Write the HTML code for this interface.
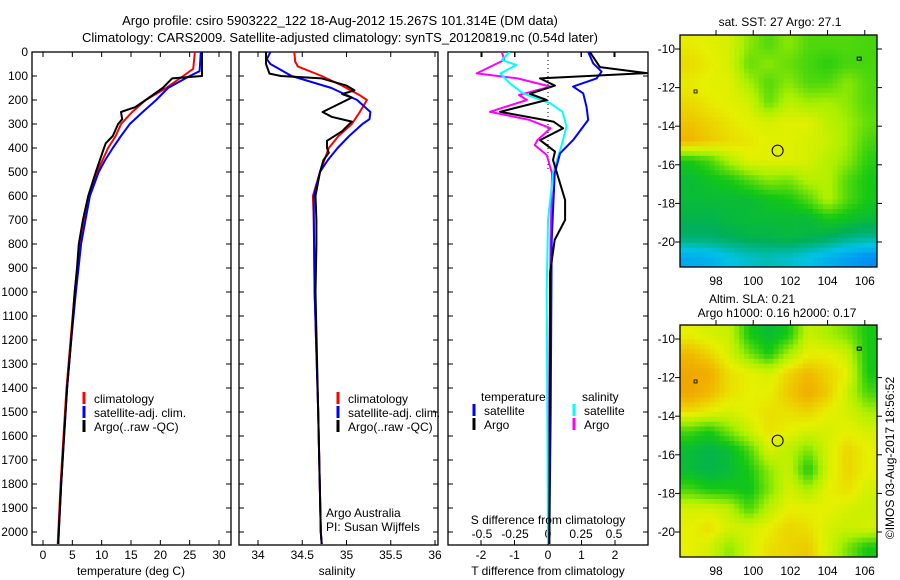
<!DOCTYPE html>
<html><head><meta charset="utf-8"><style>
html,body{margin:0;padding:0;background:#fff;}
svg{display:block;font-family:"Liberation Sans",sans-serif;}
text{font-size:12px;fill:#000;}
</style></head><body>
<svg id="fig" width="900" height="580" viewBox="0 0 900 580" xmlns="http://www.w3.org/2000/svg">
<text x="340" y="25" text-anchor="middle" style="font-size:13px">Argo profile: csiro 5903222_122 18-Aug-2012 15.267S 101.314E (DM data)</text>
<text x="340" y="42" text-anchor="middle" style="font-size:13px">Climatology: CARS2009. Satellite-adjusted climatology: synTS_20120819.nc (0.54d later)</text>
<g id="g1"></g>
<g id="g2"></g>
<g id="g3"></g>
<g id="m1"></g>
<g id="m2"></g>
<text x="780" y="26" text-anchor="middle">sat. SST: 27 Argo: 27.1</text>
<text x="752" y="303" text-anchor="middle">Altim. SLA: 0.21</text>
<text x="777" y="317" text-anchor="middle">Argo h1000: 0.16 h2000: 0.17</text>
<text transform="translate(894,458) rotate(-90)" text-anchor="middle">©IMOS 03-Aug-2017 18:56:52</text>
</svg>
<script>
// ---------- data ----------
const tDepthA=[0,100,110,150,200,230,250,280,300,350,380,400,500,600,700,800,900,1000,1200,1400,1600,1800,2000,2050];
const tArgo=[27.1,27.1,22,20.4,17.5,15.7,13.3,13.5,12.8,11.9,10.7,10.4,9.0,7.7,6.8,6.1,5.8,5.4,4.8,4.1,3.6,3.1,2.7,2.6];
const tDepthC=[0,70,100,150,200,250,300,350,400,500,600,800,1000,1200,1400,1600,1800,2000,2050];
const tClim=[25.9,25.6,23.9,21,17.5,15.2,13.3,12.4,11.1,9.2,7.8,6.3,5.4,4.7,4.0,3.5,3.0,2.6,2.5];
const tDepthS=[0,80,100,150,200,250,300,350,400,450,500,600,800,1000,1200,1400,1600,1800,2000,2050];
const tSat=[26.9,26.7,25,21.3,19.3,17,14.8,13.3,11.9,10.6,9.5,8,6.5,5.6,4.8,4.1,3.6,3.1,2.7,2.6];
const sDepthA=[0,50,90,100,110,140,160,175,190,210,250,270,290,330,370,400,420,450,500,600,700,800,1000,1500,2000,2050];
const sArgo=[34.09,34.09,34.13,34.26,34.72,35.0,35.09,34.95,35.06,34.95,34.73,34.83,35.06,34.95,34.78,34.78,34.8,34.74,34.7,34.65,34.66,34.66,34.65,34.68,34.71,34.72];
const sDepthC=[0,40,60,100,140,180,200,250,300,350,400,500,550,600,700,1000,1500,2000,2050];
const sClim=[34.41,34.42,34.45,34.72,34.95,35.15,35.23,35.15,35.06,34.91,34.8,34.7,34.66,34.62,34.63,34.64,34.68,34.71,34.72];
const sDepthS=[0,30,50,100,150,200,250,280,300,350,400,450,500,600,700,1000,1500,2000,2050];
const sSat=[34.14,34.1,34.14,34.38,34.83,35.12,35.27,35.26,35.18,35.03,34.9,34.79,34.7,34.63,34.63,34.64,34.68,34.71,34.72];
const dDepthT=[0,63,88,110,140,174,200,249,290,318,367,415,450,617,700,783,922,1500,2050];
const dTArgoClim=[1.25,1.55,2.95,-0.24,0.21,-0.54,-0.04,-1.43,0.16,0.45,-0.24,0.21,0.15,0.51,0.51,0.2,0.06,0.05,0.04];
const dDepthTS=[0,47,82,110,144,172,228,283,367,422,506,783,1500,2050];
const dTArgoSat=[1.2,1.35,1.6,1.45,0.75,1.05,1.15,1.2,0.75,0.36,0.2,0.11,0.08,0.04];
const dDepthS=[0,33,89,110,144,179,200,249,283,318,367,388,429,506,783,2050];
const dSArgoClim=[-0.35,-0.33,-0.54,-0.23,0.02,-0.22,-0.16,-0.44,-0.14,0.02,-0.08,-0.1,-0.01,0.03,0.02,0.0];
const dDepthSS=[0,33,54,89,130,172,214,249,310,394,500,700,1000,2050];
const dSArgoSat=[-0.29,-0.35,-0.24,-0.36,-0.29,-0.19,0.02,0.11,0.14,0.1,0.04,0.0,-0.01,0.0];
const depthTicks=[0,100,200,300,400,500,600,700,800,900,1000,1100,1200,1300,1400,1500,1600,1700,1800,1900,2000];
const tTicks=[0,5,10,15,20,25,30];
const sTicks=[34,34.5,35,35.5,36];
const sTickLabels=["34","34.5","35","35.5","36"];
const dTTicks=[-2,-1,0,1,2];
const dSTicks=[-0.5,-0.25,0,0.25,0.5];
const dSTickLabels=["-0.5","-0.25","0","0.25","0.5"];
const lonTicks=[98,100,102,104,106];
const latTicks=[-10,-12,-14,-16,-18,-20];
const sstGrid=[
[0.76,0.74,0.72,0.62,0.56,0.62,0.56,0.56,0.56,0.55],
[0.79,0.76,0.72,0.58,0.62,0.58,0.55,0.52,0.55,0.55],
[0.76,0.74,0.74,0.65,0.56,0.62,0.56,0.56,0.62,0.56],
[0.79,0.76,0.74,0.72,0.58,0.68,0.64,0.65,0.62,0.56],
[0.83,0.8,0.77,0.74,0.72,0.74,0.74,0.68,0.64,0.58],
[0.86,0.82,0.79,0.77,0.74,0.74,0.72,0.7,0.64,0.55],
[0.5,0.55,0.66,0.74,0.74,0.74,0.72,0.67,0.62,0.52],
[0.45,0.48,0.5,0.56,0.62,0.6,0.67,0.67,0.56,0.5],
[0.45,0.45,0.45,0.45,0.48,0.5,0.56,0.67,0.56,0.5],
[0.42,0.42,0.44,0.45,0.45,0.45,0.45,0.5,0.48,0.45],
[0.38,0.38,0.4,0.42,0.42,0.44,0.42,0.4,0.36,0.34],
[0.18,0.2,0.25,0.28,0.3,0.28,0.25,0.2,0.15,0.1]];
const slaGrid=[
[0.75,0.72,0.7,0.5,0.45,0.5,0.7,0.65,0.6,0.5],
[0.85,0.8,0.72,0.6,0.5,0.65,0.75,0.75,0.7,0.5],
[0.9,0.88,0.78,0.75,0.72,0.8,0.85,0.8,0.75,0.5],
[0.9,0.85,0.78,0.75,0.75,0.82,0.88,0.82,0.7,0.55],
[0.78,0.75,0.72,0.75,0.78,0.78,0.8,0.75,0.72,0.65],
[0.55,0.5,0.6,0.7,0.78,0.75,0.72,0.72,0.75,0.72],
[0.45,0.42,0.45,0.55,0.72,0.68,0.6,0.72,0.8,0.75],
[0.45,0.42,0.45,0.5,0.62,0.7,0.5,0.72,0.8,0.75],
[0.55,0.5,0.5,0.48,0.6,0.72,0.65,0.75,0.78,0.72],
[0.72,0.72,0.68,0.55,0.68,0.75,0.75,0.75,0.72,0.7],
[0.75,0.78,0.72,0.72,0.75,0.8,0.78,0.72,0.7,0.72],
[0.75,0.72,0.62,0.72,0.78,0.8,0.82,0.72,0.6,0.5]];
const argoLon=101.314, argoLat=-15.267;

// ---------- helpers ----------
const NS="http://www.w3.org/2000/svg";
function mk(parent,tag,attrs,txt){const e=document.createElementNS(NS,tag);for(const k in attrs)e.setAttribute(k,attrs[k]);if(txt!==undefined)e.textContent=txt;parent.appendChild(e);return e;}
const yTop=52, pxPer100=24, yBot=545;
const yD=d=>yTop+d*pxPer100/100;
const xT=t=>43+t*(176/30);
const xS=s=>258+(s-34)*88.5;
const xDT=v=>548+v*33.5;
const xDS=v=>548+v*132;

function frame(g,x0,x1,name){
  const r=mk(g,'rect',{x:x0,y:yTop,width:x1-x0,height:yBot-yTop,fill:'none',stroke:'#000','stroke-width':1.3});
  
  
  depthTicks.forEach(d=>{
    const t1=mk(g,'line',{x1:x0,x2:x0+5,y1:yD(d),y2:yD(d),stroke:'#000'});
    
    
    const t2=mk(g,'line',{x1:x1,x2:x1-5,y1:yD(d),y2:yD(d),stroke:'#000'});
    
    
  });
}
function xticks(g,vals,labels,fx,ylab,name){
  vals.forEach((v,i)=>{
    const a=mk(g,'line',{x1:fx(v),x2:fx(v),y1:yBot,y2:yBot-5,stroke:'#000'});
    
    
    const b=mk(g,'line',{x1:fx(v),x2:fx(v),y1:yTop,y2:yTop+5,stroke:'#000'});
    
    
    const t=mk(g,'text',{x:fx(v),y:ylab,'text-anchor':'middle'},labels[i]);
    
    
  });
}
function line(g,depths,vals,fx,col,name,w){
  const pts=depths.map((d,i)=>fx(vals[i]).toFixed(1)+','+yD(d).toFixed(1)).join(' ');
  const p=mk(g,'polyline',{points:pts,fill:'none',stroke:col,'stroke-width':w||2,'stroke-linejoin':'round'});
  
  
}
function legend(g,x,y,col,label){
  const b=mk(g,'line',{x1:x,x2:x,y1:y-11,y2:y+1,stroke:col,'stroke-width':3});
  
  
  const t=mk(g,'text',{x:x+10,y:y},label);
  
  
}

// ---------- panel 1 ----------
const g1=document.getElementById('g1');
frame(g1,32,231,'temperature-axes');
depthTicks.forEach(d=>{
  const t=mk(g1,'text',{x:28,y:yD(d)+4,'text-anchor':'end'},String(d));
  
  
});
xticks(g1,tTicks,tTicks.map(String),xT,559,'temperature');
line(g1,tDepthC,tClim,xT,'#ff0000','temperature-climatology-line');
line(g1,tDepthS,tSat,xT,'#0000ff','temperature-satellite-line');
line(g1,tDepthA,tArgo,xT,'#000000','temperature-argo-line');
legend(g1,84,403,'#ff0000','climatology');
legend(g1,84,417,'#0000ff','satellite-adj. clim.');
legend(g1,84,431,'#000000','Argo(..raw -QC)');
let tt=mk(g1,'text',{x:131,y:575,'text-anchor':'middle'},'temperature (deg C)');


// ---------- panel 2 ----------
const g2=document.getElementById('g2');
frame(g2,239,438,'salinity-axes');
xticks(g2,sTicks,sTickLabels,xS,559,'salinity');
line(g2,sDepthC,sClim,xS,'#ff0000','salinity-climatology-line');
line(g2,sDepthS,sSat,xS,'#0000ff','salinity-satellite-line');
line(g2,sDepthA,sArgo,xS,'#000000','salinity-argo-line');
legend(g2,338,403,'#ff0000','climatology');
legend(g2,338,417,'#0000ff','satellite-adj. clim.');
legend(g2,338,431,'#000000','Argo(..raw -QC)');
tt=mk(g2,'text',{x:326,y:517},'Argo Australia');

tt=mk(g2,'text',{x:326,y:531},'PI: Susan Wijffels');

tt=mk(g2,'text',{x:337,y:575,'text-anchor':'middle'},'salinity');


// ---------- panel 3 ----------
const g3=document.getElementById('g3');
frame(g3,448,648,'difference-axes');
xticks(g3,dTTicks,dTTicks.map(String),xDT,559,'t-difference');
dSTicks.forEach((v,i)=>{
  const a=mk(g3,'line',{x1:xDS(v),x2:xDS(v),y1:yTop,y2:yTop+5,stroke:'#000'});
  
  
  const t=mk(g3,'text',{x:xDS(v),y:538,'text-anchor':'middle'},dSTickLabels[i]);
  
  
});
const zl=mk(g3,'line',{x1:xDT(0),x2:xDT(0),y1:yTop,y2:yD(500),stroke:'#000','stroke-dasharray':'1,3'});

const clip=mk(document.getElementById('fig'),'clipPath',{id:'c3'});
mk(clip,'rect',{x:448,y:yTop,width:200,height:yBot-yTop});
const g3c=mk(g3,'g',{'clip-path':'url(#c3)'});


line(g3c,dDepthS,dSArgoClim,xDS,'#ff00ff','s-diff-argo-line');
line(g3c,dDepthSS,dSArgoSat,xDS,'#00ffff','s-diff-satellite-line');
line(g3c,dDepthTS,dTArgoSat,xDT,'#0000ff','t-diff-satellite-line');
line(g3c,dDepthT,dTArgoClim,xDT,'#000000','t-diff-argo-line');
tt=mk(g3,'text',{x:481,y:401},'temperature');
tt=mk(g3,'text',{x:582,y:401},'salinity');
legend(g3,474,415,'#0000ff','satellite');
legend(g3,474,429,'#000000','Argo');
legend(g3,574,415,'#00ffff','satellite');
legend(g3,574,429,'#ff00ff','Argo');
tt=mk(g3,'text',{x:548,y:524,'text-anchor':'middle'},'S difference from climatology');

tt=mk(g3,'text',{x:548,y:575,'text-anchor':'middle'},'T difference from climatology');


// ---------- maps ----------
const stops=[[0,[0,110,255]],[0.25,[0,195,230]],[0.4,[0,175,90]],[0.5,[20,200,20]],[0.65,[170,240,0]],[0.75,[230,240,0]],[0.85,[240,185,0]],[1,[240,130,0]]];
function cmap(v){v=Math.max(0,Math.min(1,v));for(let i=1;i<stops.length;i++){if(v<=stops[i][0]){const a=stops[i-1],b=stops[i],f=(v-a[0])/(b[0]-a[0]);return 'rgb('+a[1].map((c,k)=>Math.round(c+(b[1][k]-c)*f)).join(',')+')';}}return 'rgb(240,130,0)';}
function sample(grid,fr,fc){
  const rows=grid.length,cols=grid[0].length;
  let r=Math.max(0,Math.min(rows-1,fr)),c=Math.max(0,Math.min(cols-1,fc));
  const r0=Math.floor(r),c0=Math.floor(c),r1=Math.min(rows-1,r0+1),c1=Math.min(cols-1,c0+1);
  const a=r-r0,b=c-c0;
  return grid[r0][c0]*(1-a)*(1-b)+grid[r0][c1]*(1-a)*b+grid[r1][c0]*a*(1-b)+grid[r1][c1]*a*b;
}
function map(id,grid,top,labY,name){
  const g=document.getElementById(id);
  const L=680,R=877,B=top+232;
  const lat10=top+14;
  const xL=lon=>716+(lon-98)*18.6;
  const yL=lat=>lat10+(-10-lat)*19.3;
  const rows=grid.length,cols=grid[0].length,sub=4;
  const cw=(R-L)/(cols*sub),ch=(B-top)/(rows*sub);
  for(let r=0;r<rows*sub;r++)for(let c=0;c<cols*sub;c++){
    const v=sample(grid,(r+0.5)/sub-0.5,(c+0.5)/sub-0.5);
    const cell=mk(g,'rect',{x:(L+c*cw).toFixed(2),y:(top+r*ch).toFixed(2),width:(cw+0.5).toFixed(2),height:(ch+0.5).toFixed(2),fill:cmap(v)});
    
    
  }
  const fr=mk(g,'rect',{x:L,y:top,width:R-L,height:B-top,fill:'none',stroke:'#000','stroke-width':1.3});
  
  lonTicks.forEach(lo=>{
    const a=mk(g,'line',{x1:xL(lo),x2:xL(lo),y1:top,y2:top-5,stroke:'#000'});
    
    const t=mk(g,'text',{x:xL(lo),y:labY,'text-anchor':'middle'},String(lo));
    
  });
  latTicks.forEach(la=>{
    const a=mk(g,'line',{x1:L,x2:L-5,y1:yL(la),y2:yL(la),stroke:'#000'});
    
    const b=mk(g,'line',{x1:R,x2:R+5,y1:yL(la),y2:yL(la),stroke:'#000'});
    
    const t=mk(g,'text',{x:675,y:yL(la)+4,'text-anchor':'end'},String(la));
    
  });
  const c=mk(g,'circle',{cx:xL(argoLon),cy:yL(argoLat),r:5.5,fill:'none',stroke:'#000','stroke-width':1});
  
  const i1=mk(g,'rect',{x:xL(96.9)-1.5,y:yL(-12.2)-1.5,width:3,height:3,fill:'none',stroke:'#000','stroke-width':0.8});
  
  const i2=mk(g,'rect',{x:xL(105.7)-2,y:yL(-10.5)-1.5,width:4,height:3,fill:'none',stroke:'#000','stroke-width':1});
  
}
map('m1',sstGrid,35,285,'sst-map');
map('m2',slaGrid,325,575,'sla-map');
</script>
</body></html>
